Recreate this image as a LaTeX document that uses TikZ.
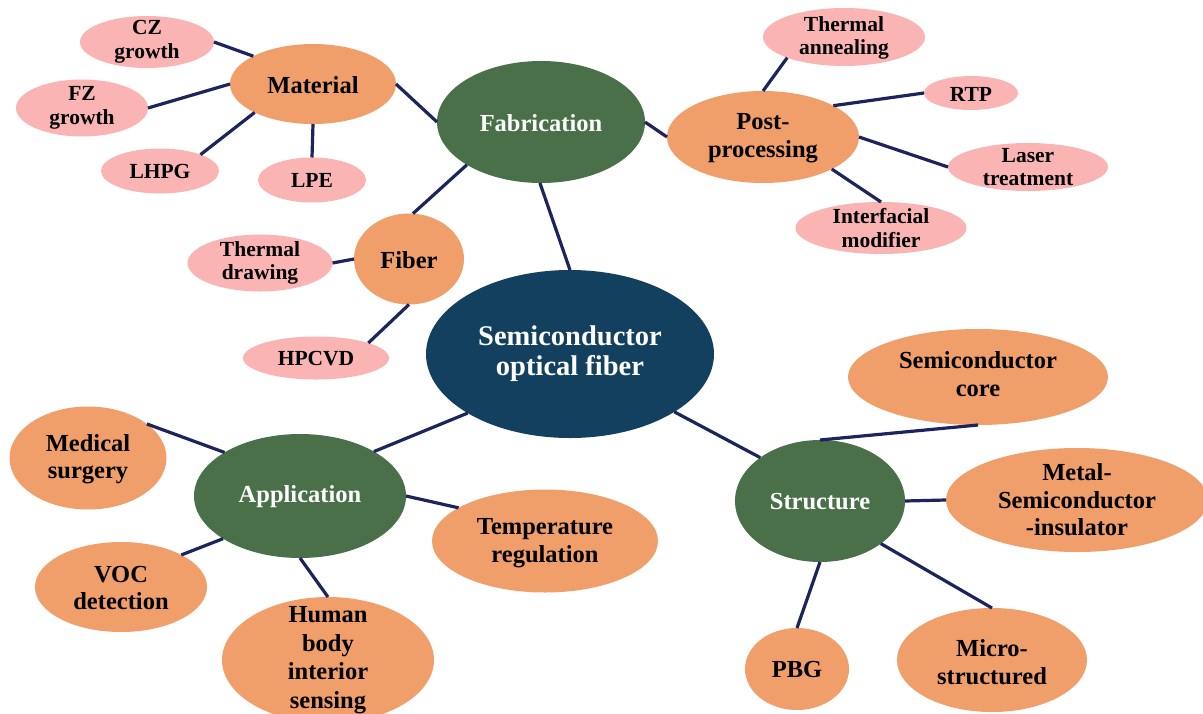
\documentclass[tikz,border=0pt]{standalone}
\usepackage{fontspec}
\setmainfont{Liberation Serif}
\usetikzlibrary{shapes.geometric}
\definecolor{navc}{RGB}{19,64,94}
\definecolor{grnc}{RGB}{74,112,74}
\definecolor{orac}{RGB}{240,158,106}
\definecolor{pinkc}{RGB}{250,180,180}
\definecolor{linec}{RGB}{28,36,92}
\newcommand{\bigfnt}{\fontsize{28.5}{30}\selectfont\bfseries}
\newcommand{\midfnt}{\fontsize{24.5}{27.5}\selectfont\bfseries}
\newcommand{\humfnt}{\fontsize{24.5}{28.5}\selectfont\bfseries}
\newcommand{\smlfnt}{\fontsize{21.5}{23.5}\selectfont\bfseries}
\tikzset{
  bub/.style={ellipse, inner sep=0pt, outer sep=0pt, draw=none},
  sz/.style 2 args={minimum width=#1pt, minimum height=#2pt},
  navE/.style={bub, fill=navc},
  grnE/.style={bub, fill=grnc},
  oraE/.style={bub, fill=orac},
  pinkE/.style={bub, fill=pinkc},
  wtxt/.style={align=center, inner sep=0pt, text=white},
  btxt/.style={align=center, inner sep=0pt, text=black},
  link/.style={draw=linec, line width=3.2pt},
}
\begin{document}
\begin{tikzpicture}[x=1pt, y=-1pt]
\clip (0,0) rectangle (1203,713);
\fill[white] (0,0) rectangle (1203,713);

% central
\node[navE, sz={288}{168}] (cen) at (570,354) {};
\node[wtxt, font=\bigfnt] (cen-t) at (570,354) {Semiconductor\\optical fiber};

% green hubs
\node[grnE, sz={208}{122}] (fab) at (541,122) {};
\node[wtxt, font=\midfnt] (fab-t) at (541,123) {Fabrication};
\node[grnE, sz={212}{124}] (app) at (300,496) {};
\node[wtxt, font=\midfnt] (app-t) at (300,497) {Application};
\node[grnE, sz={170}{122}] (str) at (820,501) {};
\node[wtxt, font=\midfnt] (str-t) at (820,502) {Structure};

% orange nodes
\node[oraE, sz={166}{80}] (mat) at (313,84) {};
\node[btxt, font=\midfnt] (mat-t) at (313,85) {Material};
\node[oraE, sz={192}{92}] (post) at (763,137) {};
\node[btxt, font=\midfnt] (post-t) at (763,138) {Post-\\processing};
\node[oraE, sz={110}{91}] (fib) at (409,259) {};
\node[btxt, font=\midfnt] (fib-t) at (409,260) {Fiber};
\node[oraE, sz={157}{103}] (med) at (88,458) {};
\node[btxt, font=\midfnt] (med-t) at (88,459) {Medical\\surgery};
\node[oraE, sz={172}{90}] (voc) at (121,587) {};
\node[btxt, font=\midfnt] (voc-t) at (121,588) {VOC\\detection};
\node[oraE, sz={212}{126}] (hum) at (328,660) {};
\node[btxt, font=\humfnt] (hum-t) at (328,660) {Human\\body\\interior\\sensing};
\node[oraE, sz={226}{103}] (temp) at (545,541) {};
\node[btxt, font=\midfnt] (temp-t) at (545,543) {Temperature\\regulation};
\node[oraE, sz={260}{96}] (core) at (978,377) {};
\node[btxt, font=\midfnt] (core-t) at (978,374) {Semiconductor\\core};
\node[oraE, sz={262}{104}] (metal) at (1077,500) {};
\node[btxt, font=\midfnt] (metal-t) at (1077,500) {Metal-\\Semiconductor\\-insulator};
\node[oraE, sz={104}{82}] (pbg) at (797,669) {};
\node[btxt, font=\midfnt] (pbg-t) at (797,669) {PBG};
\node[oraE, sz={190}{104}] (micro) at (992,660) {};
\node[btxt, font=\midfnt] (micro-t) at (992,662) {Micro-\\structured};

% pink nodes
\node[pinkE, sz={134}{52}] (cz) at (147,42) {};
\node[btxt, font=\smlfnt] (cz-t) at (147,42) {CZ\\growth};
\node[pinkE, sz={132}{57}] (fz) at (82,108) {};
\node[btxt, font=\smlfnt] (fz-t) at (82,108) {FZ\\growth};
\node[pinkE, sz={118}{45}] (lhpg) at (160,171) {};
\node[btxt, font=\smlfnt] (lhpg-t) at (160,171) {LHPG};
\node[pinkE, sz={108}{45}] (lpe) at (312,180) {};
\node[btxt, font=\smlfnt] (lpe-t) at (312,180) {LPE};
\node[pinkE, sz={162}{58}] (ta) at (844,37) {};
\node[btxt, font=\smlfnt] (ta-t) at (844,38) {Thermal\\annealing};
\node[pinkE, sz={94}{34}] (rtp) at (971,93) {};
\node[btxt, font=\smlfnt] (rtp-t) at (971,94) {RTP};
\node[pinkE, sz={160}{48}] (laser) at (1028,167) {};
\node[btxt, font=\smlfnt] (laser-t) at (1028,167) {Laser\\treatment};
\node[pinkE, sz={171}{52}] (int) at (881,228) {};
\node[btxt, font=\smlfnt] (int-t) at (881,228) {Interfacial\\modifier};
\node[pinkE, sz={145}{57}] (td) at (260,263) {};
\node[btxt, font=\smlfnt] (td-t) at (260,263) {Thermal\\drawing};
\node[pinkE, sz={146}{43}] (hp) at (316,358) {};
\node[btxt, font=\smlfnt] (hp-t) at (316,359) {HPCVD};

% connectors
\draw[link] (cz.east) -- (mat.155);
\draw[link] (fz.east) -- (mat.west);
\draw[link] (lhpg.22) -- (mat.206);
\draw[link] (lpe.north) -- (mat.south);
\draw[link] (mat.east) -- (fab.west);
\draw[link] (fab.east) -- (post.west);
\draw[link] (ta.200) -- (post.north);
\draw[link] (post.24) -- (rtp.west);
\draw[link] (post.east) -- (laser.west);
\draw[link] (post.-25) -- (int.north);
\draw[link] (fab.210) -- (fib.85);
\draw[link] (td.east) -- (fib.west);
\draw[link] (hp.16) -- (fib.south);
\draw[link] (fab.-91) -- (cen.north);
\draw[link] (cen.210) -- (app.31);
\draw[link] (app.150) -- (med.30);
\draw[link] (app.209) -- (voc.28);
\draw[link] (app.south) -- (hum.north);
\draw[link] (app.east) -- (temp.159);
\draw[link] (cen.-29) -- (str.144);
\draw[link] (str.north) -- (core.south);
\draw[link] (str.east) -- (metal.west);
\draw[link] (str.south) -- (pbg.north);
\draw[link] (str.-35) -- (micro.north);
\end{tikzpicture}
\end{document}
